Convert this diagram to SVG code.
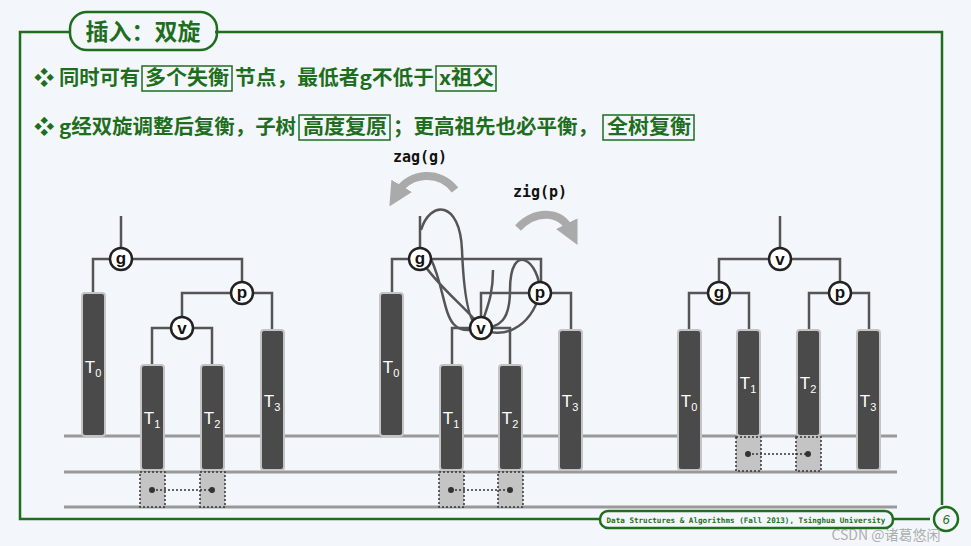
<svg xmlns="http://www.w3.org/2000/svg" width="971" height="546" viewBox="0 0 971 546">
<defs>
<style>
.fr{fill:none;stroke:#1e6e1e;stroke-width:2.5}
.hl{stroke:#999;stroke-width:3}
.ed{fill:none;stroke:#555;stroke-width:2.5}
.bar{fill:#4a4a4a;stroke:#c4c4c4;stroke-width:2}
.dbox{fill:#c4c4c4;stroke:#333;stroke-width:1.5;stroke-dasharray:2 2}
.nd{fill:#fff;stroke:#222;stroke-width:2.5}
.nt{font-family:"Liberation Sans","Noto Sans",sans-serif;font-weight:bold;font-size:17px;text-anchor:middle;fill:#111}
.tl{font-family:"Liberation Sans",sans-serif;font-size:17px;fill:#fff;text-anchor:middle}
.tl tspan{font-size:11px}
.cn{font-family:"Noto Sans CJK SC",sans-serif;font-weight:bold;font-size:20px;fill:#1e6e1e}
.bx{fill:none;stroke:#1e6e1e;stroke-width:1.5}
.mono{font-family:"DejaVu Sans Mono","Liberation Mono",monospace;font-weight:bold;font-size:15px;fill:#111;text-anchor:middle}
.ar{fill:none;stroke:#aaa;stroke-width:8}
</style>
<marker id="ah" viewBox="0 0 10 10" refX="3" refY="5" markerWidth="3" markerHeight="3" orient="auto"><path d="M0,0L10,5L0,10z" fill="#aaa"/></marker>
</defs>
<rect width="971" height="546" fill="#f3f7fb"/>
<g id="frame">
<path class="fr" d="M215,32H942V505M930,519H893M600,519H20V32H70"/>
<rect x="70" y="12" width="147" height="38" rx="17" fill="#f3f7fb" class="fr"/>
<text x="143" y="40" class="cn" text-anchor="middle" style="font-size:23px">插入：双旋</text>
<rect x="600" y="511" width="293" height="17" rx="8" fill="#f3f7fb" class="fr"/>
<text x="746" y="523" font-family="DejaVu Sans Mono,monospace" font-weight="bold" font-size="7.6" fill="#1e6e1e" text-anchor="middle">Data Structures &amp; Algorithms (Fall 2013), Tsinghua University</text>
<circle cx="946" cy="519" r="12" fill="#f3f7fb" class="fr"/>
<text x="946" y="524" font-family="Liberation Sans,sans-serif" font-size="13" font-style="italic" fill="#1e6e1e" text-anchor="middle">6</text>
<text x="886" y="540" font-family="Noto Sans CJK SC,sans-serif" font-size="14" fill="#999" fill-opacity="0.8" text-anchor="middle">CSDN @诸葛悠闲</text>
</g>
<g id="text">
<text x="34" y="85" class="cn" textLength="106" lengthAdjust="spacingAndGlyphs">❖ 同时可有</text>
<rect x="142" y="66" width="90" height="25" class="bx"/>
<text x="145" y="85" class="cn" textLength="84" lengthAdjust="spacingAndGlyphs">多个失衡</text>
<text x="235" y="85" class="cn" textLength="199" lengthAdjust="spacingAndGlyphs">节点，最低者g不低于</text>
<rect x="436" y="66" width="60" height="25" class="bx"/>
<text x="439" y="85" class="cn" textLength="55" lengthAdjust="spacingAndGlyphs">x祖父</text>
<text x="34" y="134" class="cn" textLength="262" lengthAdjust="spacingAndGlyphs">❖ g经双旋调整后复衡，子树</text>
<rect x="299" y="115" width="91" height="25" class="bx"/>
<text x="303" y="134" class="cn" textLength="84" lengthAdjust="spacingAndGlyphs">高度复原</text>
<text x="393" y="134" class="cn" textLength="205" lengthAdjust="spacingAndGlyphs">；更高祖先也必平衡，</text>
<rect x="603" y="115" width="91" height="25" class="bx"/>
<text x="607" y="134" class="cn" textLength="84" lengthAdjust="spacingAndGlyphs">全树复衡</text>
</g>
<g id="guides">
<line x1="64" y1="436" x2="897" y2="436" class="hl"/>
<line x1="64" y1="472" x2="897" y2="472" class="hl"/>
<line x1="64" y1="507" x2="897" y2="507" class="hl"/>
</g>
<g id="connectors">
<path class="ed" d="M121,216V259M93,293V259H242V293M182,328V293H272V330M152,365V328H212V365"/>
<path class="ed" d="M420,216V259M392,293V259H541V293M481,328V293H571V330M452,365V328H510V365"/>
<path class="ed" d="M421,230C430,200 460,200 462,250C464,300 470,328 481,328M420,259C440,290 470,310 481,328M431,259C450,300 440,340 481,328M493,270C493,300 485,310 481,328M540,293C530,330 500,340 481,328M540,293C540,260 510,240 510,290C510,320 500,328 481,328"/>
<path class="ed" d="M780,216V259M719,293V259H840V293M689,330V293H749V330M809,330V293H869V330"/>
<path class="ar" d="M455,190C440,170 410,172 398,192" marker-end="url(#ah)"/>
<path class="ar" d="M518,228C535,210 560,210 570,230" marker-end="url(#ah)"/>
<text x="420" y="162" class="mono">zag(g)</text>
<text x="540" y="197" class="mono">zig(p)</text>
</g>
<g id="subtrees">
<rect class="bar" x="82" y="293" width="23" height="143" rx="3"/>
<rect class="bar" x="141" y="365" width="23" height="105" rx="3"/>
<rect class="bar" x="201" y="365" width="23" height="105" rx="3"/>
<rect class="bar" x="261" y="330" width="23" height="140" rx="3"/>
<rect class="dbox" x="140" y="472" width="25" height="35"/><rect class="dbox" x="200" y="472" width="25" height="35"/>
<line x1="152" y1="490" x2="212" y2="490" stroke="#333" stroke-width="1.5" stroke-dasharray="2 2"/>
<circle cx="152" cy="490" r="3" fill="#333"/><circle cx="212" cy="490" r="3" fill="#333"/>
<rect class="bar" x="380" y="293" width="23" height="143" rx="3"/>
<rect class="bar" x="440" y="365" width="23" height="105" rx="3"/>
<rect class="bar" x="499" y="365" width="23" height="105" rx="3"/>
<rect class="bar" x="559" y="330" width="23" height="140" rx="3"/>
<rect class="dbox" x="439" y="472" width="25" height="35"/><rect class="dbox" x="498" y="472" width="25" height="35"/>
<line x1="451" y1="490" x2="510" y2="490" stroke="#333" stroke-width="1.5" stroke-dasharray="2 2"/>
<circle cx="451" cy="490" r="3" fill="#333"/><circle cx="510" cy="490" r="3" fill="#333"/>
<rect class="bar" x="678" y="330" width="23" height="140" rx="3"/>
<rect class="bar" x="737" y="330" width="23" height="106" rx="3"/>
<rect class="bar" x="797" y="330" width="23" height="106" rx="3"/>
<rect class="bar" x="857" y="330" width="23" height="140" rx="3"/>
<rect class="dbox" x="736" y="437" width="25" height="34"/><rect class="dbox" x="796" y="437" width="25" height="34"/>
<line x1="748" y1="454" x2="808" y2="454" stroke="#333" stroke-width="1.5" stroke-dasharray="2 2"/>
<circle cx="748" cy="454" r="3" fill="#333"/><circle cx="808" cy="454" r="3" fill="#333"/>
<text class="tl" x="93" y="373">T<tspan dy="4">0</tspan></text>
<text class="tl" x="152" y="424">T<tspan dy="4">1</tspan></text>
<text class="tl" x="212" y="424">T<tspan dy="4">2</tspan></text>
<text class="tl" x="272" y="407">T<tspan dy="4">3</tspan></text>
<text class="tl" x="391" y="373">T<tspan dy="4">0</tspan></text>
<text class="tl" x="451" y="424">T<tspan dy="4">1</tspan></text>
<text class="tl" x="510" y="424">T<tspan dy="4">2</tspan></text>
<text class="tl" x="570" y="407">T<tspan dy="4">3</tspan></text>
<text class="tl" x="689" y="407">T<tspan dy="4">0</tspan></text>
<text class="tl" x="748" y="389">T<tspan dy="4">1</tspan></text>
<text class="tl" x="808" y="389">T<tspan dy="4">2</tspan></text>
<text class="tl" x="868" y="407">T<tspan dy="4">3</tspan></text>
</g>
<g id="n1g"><circle class="nd" cx="121" cy="259" r="11"/><text class="nt" x="121" y="264">g</text></g>
<g id="n1p"><circle class="nd" cx="242" cy="293" r="11"/><text class="nt" x="242" y="298">p</text></g>
<g id="n1v"><circle class="nd" cx="182" cy="328" r="11"/><text class="nt" x="182" y="334">v</text></g>
<g id="n2g"><circle class="nd" cx="420" cy="259" r="11"/><text class="nt" x="420" y="264">g</text></g>
<g id="n2p"><circle class="nd" cx="540" cy="293" r="11"/><text class="nt" x="540" y="298">p</text></g>
<g id="n2v"><circle class="nd" cx="481" cy="328" r="11"/><text class="nt" x="481" y="334">v</text></g>
<g id="n3v"><circle class="nd" cx="780" cy="259" r="11"/><text class="nt" x="780" y="265">v</text></g>
<g id="n3g"><circle class="nd" cx="719" cy="293" r="11"/><text class="nt" x="719" y="298">g</text></g>
<g id="n3p"><circle class="nd" cx="840" cy="293" r="11"/><text class="nt" x="840" y="298">p</text></g>
</svg>
